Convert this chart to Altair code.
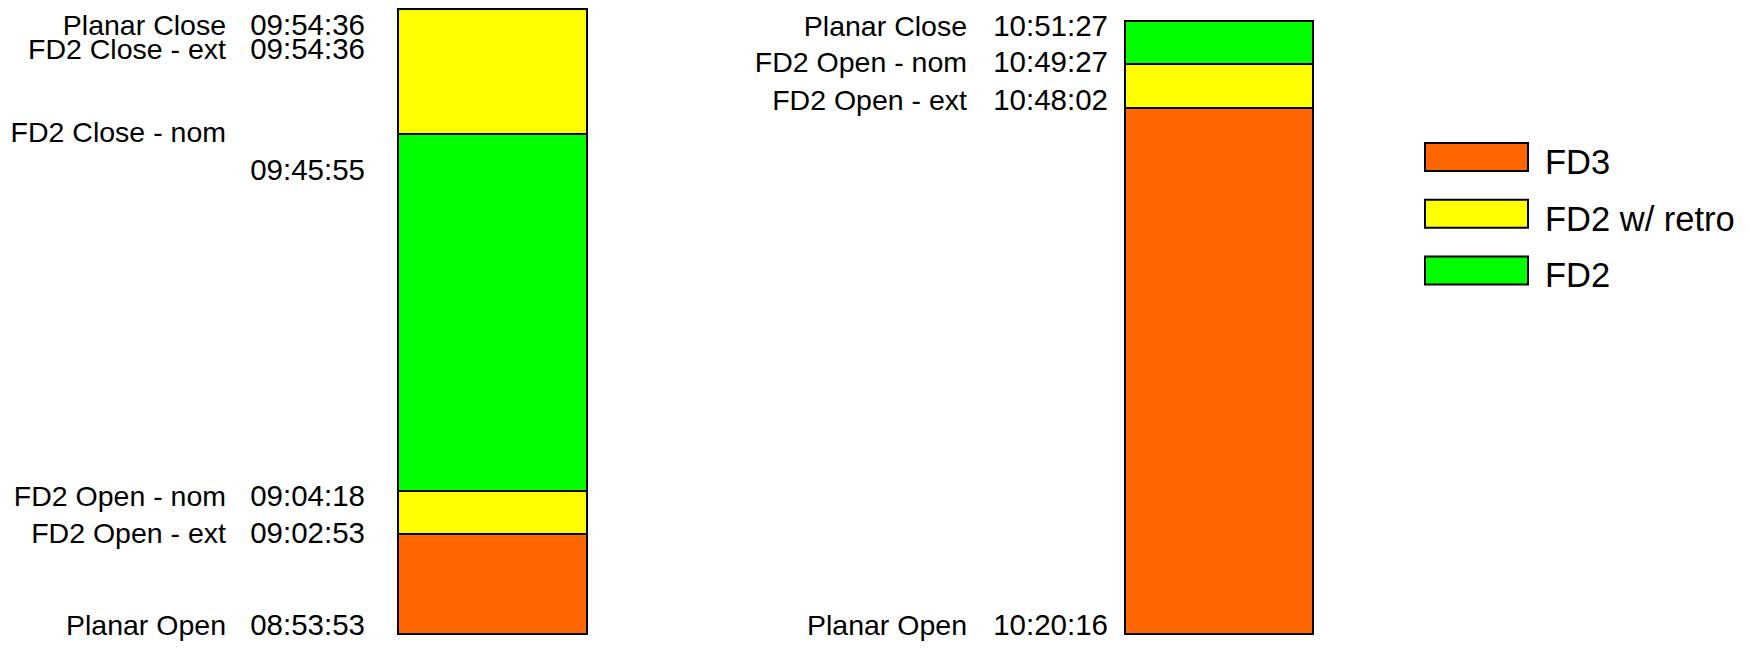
import altair as alt
import pandas as pd

# ---------------- data ----------------
categories = ["FD3", "FD2 w/ retro", "FD2"]
category_colors = ["#FF6600", "#FFFF00", "#00FF00"]

# schematic segment heights (bottom -> top)
left_segments = ["FD3", "FD2 w/ retro", "FD2", "FD2 w/ retro"]
left_heights = [100, 43, 357, 125]
right_segments = ["FD3", "FD2 w/ retro", "FD2"]
right_heights = [526, 44, 43]

left_events = ["Planar Close", "FD2 Close - ext", "FD2 Close - nom",
               "FD2 Open - nom", "FD2 Open - ext", "Planar Open"]
left_times = ["09:54:36", "09:54:36", "09:45:55", "09:04:18", "09:02:53", "08:53:53"]
left_event_edge = [4, 4, 3, 2, 1, 0]

right_events = ["Planar Close", "FD2 Open - nom", "FD2 Open - ext", "Planar Open"]
right_times = ["10:51:27", "10:49:27", "10:48:02", "10:20:16"]
right_event_edge = [3, 2, 1, 0]

# ---------------- layout ----------------
# label nudges (schematic units) relative to the bar edge they annotate
left_name_nudge = [-17, -41, 1, -6, 0, 8]
left_time_nudge = [-17, -41, -37, -6, 0, 8]
right_name_nudge = [-6, 1, 7, 8]
right_time_nudge = [-6, 1, 7, 8]

W, H = 1734, 633
FONT = "Liberation Sans"
NAME_SIZE = 28.5
TIME_SIZE = 29.5

# legend block (pixels)
LEG_X0, LEG_X1, LEG_TEXT_X = 1417, 1520, 1537
LEG_TOP, LEG_PITCH, LEG_SWATCH_H, LEG_TEXT_DY = 135, 56.75, 28, 20.85
LEG_FONT_SIZE = 34.5


def seg_frame(segs, heights):
    df = pd.DataFrame({"cat": segs, "h": heights})
    df["y1"] = df["h"].cumsum()
    df["y0"] = df["y1"] - df["h"]
    return df


def label_frame(events, times, edges, heights, name_nudge, time_nudge):
    bounds = [0] + list(pd.Series(heights).cumsum())
    anchor = [bounds[e] for e in edges]
    return pd.DataFrame({
        "name": events,
        "time": times,
        "name_y": [a + n for a, n in zip(anchor, name_nudge)],
        "time_y": [a + n for a, n in zip(anchor, time_nudge)],
    })


yscale = alt.Scale(domain=[-7, 626], nice=False, zero=False)
color_scale = alt.Scale(domain=categories, range=category_colors)


def panel_layers(seg_df, lab_df, name_x, time_x, bar_x0, bar_x1):
    bars = alt.Chart(seg_df).mark_rect(stroke="black", strokeWidth=2).encode(
        x=alt.value(bar_x0), x2=alt.value(bar_x1),
        y=alt.Y("y0:Q", scale=yscale, axis=None), y2="y1:Q",
        color=alt.Color("cat:N", scale=color_scale, legend=None),
    )
    names = alt.Chart(lab_df).mark_text(
        align="right", baseline="middle", fontSize=NAME_SIZE, font=FONT, color="black"
    ).encode(x=alt.value(name_x), y=alt.Y("name_y:Q", scale=yscale, axis=None), text="name:N")
    times = alt.Chart(lab_df).mark_text(
        align="right", baseline="middle", fontSize=TIME_SIZE, font=FONT, color="black"
    ).encode(x=alt.value(time_x), y=alt.Y("time_y:Q", scale=yscale, axis=None), text="time:N")
    return [bars, names, times]


layers = panel_layers(
    seg_frame(left_segments, left_heights),
    label_frame(left_events, left_times, left_event_edge, left_heights,
                left_name_nudge, left_time_nudge),
    name_x=218, time_x=357, bar_x0=390, bar_x1=579,
) + panel_layers(
    seg_frame(right_segments, right_heights),
    label_frame(right_events, right_times, right_event_edge, right_heights,
                right_name_nudge, right_time_nudge),
    name_x=959, time_x=1100, bar_x0=1117, bar_x1=1305,
)

# ---------------- legend (drawn as marks) ----------------
legend_df = pd.DataFrame({"cat": categories, "idx": list(range(len(categories)))})
legend_base = alt.Chart(legend_df).transform_calculate(
    ly0=f"{LEG_TOP} + datum.idx * {LEG_PITCH}",
    ly1=f"{LEG_TOP} + datum.idx * {LEG_PITCH} + {LEG_SWATCH_H}",
    lty=f"{LEG_TOP} + datum.idx * {LEG_PITCH} + {LEG_TEXT_DY}",
)
legend_swatches = legend_base.mark_rect(stroke="black", strokeWidth=2).encode(
    x=alt.value(LEG_X0), x2=alt.value(LEG_X1),
    y=alt.Y("ly0:Q", scale=None, axis=None), y2="ly1:Q",
    color=alt.Color("cat:N", scale=color_scale, legend=None),
)
legend_labels = legend_base.mark_text(
    align="left", baseline="middle", fontSize=LEG_FONT_SIZE, font=FONT, color="black"
).encode(
    x=alt.value(LEG_TEXT_X), y=alt.Y("lty:Q", scale=None, axis=None), text="cat:N",
)

chart = (
    alt.layer(*layers, legend_swatches, legend_labels)
    .resolve_scale(y="independent")
    .properties(width=W, height=H, padding=0, autosize=alt.AutoSizeParams(type="none"))
    .configure_view(strokeWidth=0)
)

chart.save("out.html", embed_options={"renderer": "svg", "actions": False})
